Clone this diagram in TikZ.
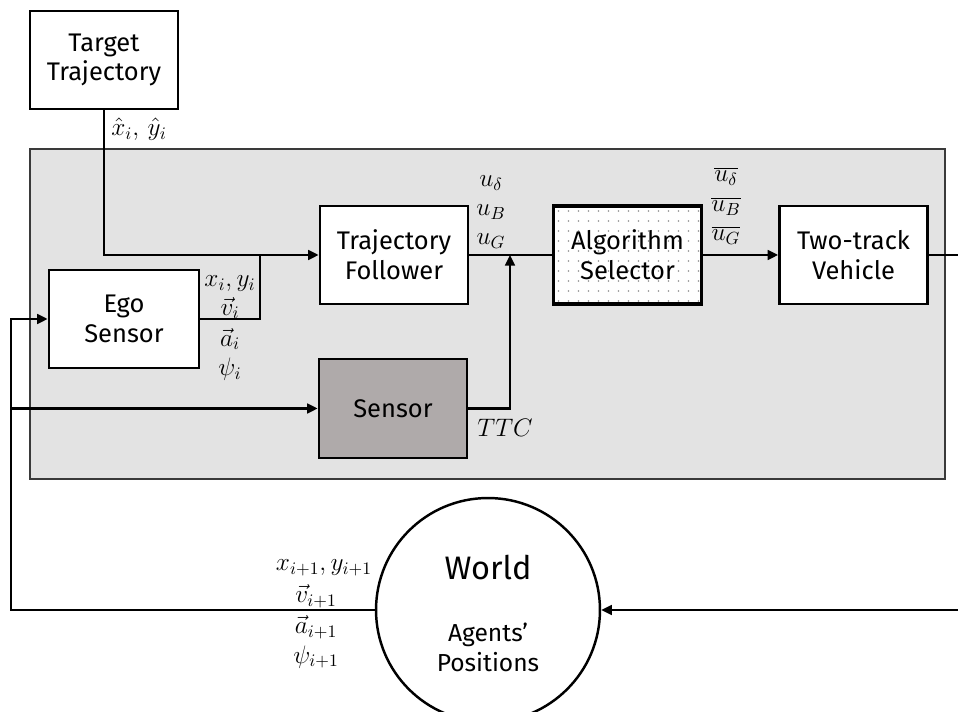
\documentclass[tikz,border=0pt]{standalone}
\usepackage{fontspec}
\setmainfont{Fira Sans}
\usetikzlibrary{arrows.meta,calc}
\definecolor{plantfill}{HTML}{E3E3E3}
\definecolor{plantedge}{HTML}{3A3A3A}
\definecolor{sensorfill}{HTML}{AFAAAA}
\definecolor{dotgray}{HTML}{909090}
\tikzset{
  block/.style={draw, line width=1.5pt, fill=white, align=center,
    minimum width=2.96cm, minimum height=1.96cm, inner sep=0pt,
    font=\fontsize{14.5}{17}\selectfont},
  wire/.style={line width=1.4pt},
  arw/.style={wire, -{Triangle[length=6pt,width=5.5pt]}},
  sig/.style={font=\fontsize{14.5}{17}\selectfont, inner sep=0pt},
  dotted box/.style={path picture={
    \foreach \i in {0,...,14}
      \foreach \j in {0,...,9}
        \fill[dotgray] ($(path picture bounding box.north west)+(\i*10+5,\j*10+5)$) circle (0.45pt);
  }}
}
\begin{document}
\begin{tikzpicture}[x=0.02cm, y=-0.02cm]
  \useasboundingbox (0,0) rectangle (958,712);
  \clip (0,0) rectangle (958,712);

  % vehicle subsystem frame
  \draw[fill=plantfill, draw=plantedge, line width=1.1pt] (30,149) rectangle (945,479);

  % blocks
  \node[block] (target) at (104,60) {Target\\Trajectory};
  \node[block] (follower) at (394,255) {Trajectory\\Follower};
  \node[block, dotted box, line width=2.2pt] (selector) at (627.5,255) {Algorithm\\Selector};
  \node[block] (vehicle) at (853.5,255) {Two-track\\Vehicle};
  \node[block, minimum width=3cm] (ego) at (124,319) {Ego\\Sensor};
  \node[block, fill=sensorfill, minimum height=1.98cm] (sensor) at (393,408.5) {Sensor};
  \node[draw, circle, line width=1.4pt, fill=white, minimum size=4.48cm, inner sep=0pt] (world) at (488,610) {};
  \node[font=\fontsize{18.5}{22}\selectfont] (worldtitle) at (488,568) {World};
  \node[font=\fontsize{14}{17}\selectfont, align=center] (worldsub) at (488,647) {Agents’\\Positions};

  % junction points
  \coordinate (jA) at (260,255);
  \coordinate (jB) at (510,255);
  \coordinate (cL) at (11,319);
  \coordinate (cS) at (11,408.5);
  \coordinate (cR) at (968,255);

  % connectors
  \draw[arw] (target.south) |- (follower.west);
  \draw[wire] (ego.east) -| (jA);
  \draw[wire] (follower.east) -- (selector.west);
  \draw[arw] (sensor.east) -| (jB);
  \draw[arw] (selector.east) -- (vehicle.west);
  \draw[arw] (vehicle.east) -- (cR) |- (world.east);
  \draw[arw] (world.west) -| (cL) -- (ego.west);
  \draw[arw] (cS) -- (sensor.west);

  % signal labels
  \node[sig, anchor=west] (lxy) at (111,129) {$\hat{x}_i,\,\hat{y}_i$};
  \node[sig] (lex) at (230,284) {$x_i,y_i$};
  \node[sig] (lev) at (230,308) {$\vec{v}_i$};
  \node[sig] (lea) at (230,339) {$\vec{a}_i$};
  \node[sig] (lep) at (230,369) {$\psi_i$};
  \node[sig] (lud) at (491,183) {$u_\delta$};
  \node[sig] (lub) at (491,212) {$u_B$};
  \node[sig] (lug) at (491,241) {$u_G$};
  \node[sig] (lsd) at (726,176) {$\overline{u_\delta}$};
  \node[sig] (lsb) at (726,206) {$\overline{u_B}$};
  \node[sig] (lsg) at (726,235) {$\overline{u_G}$};
  \node[sig, anchor=west] (lttc) at (477,428) {$TTC$};
  \node[sig] (lwx) at (324,568) {$x_{i+1},y_{i+1}$};
  \node[sig] (lwv) at (316,596) {$\vec{v}_{i+1}$};
  \node[sig] (lwa) at (316,627) {$\vec{a}_{i+1}$};
  \node[sig] (lwp) at (316,657) {$\psi_{i+1}$};
\end{tikzpicture}
\end{document}
